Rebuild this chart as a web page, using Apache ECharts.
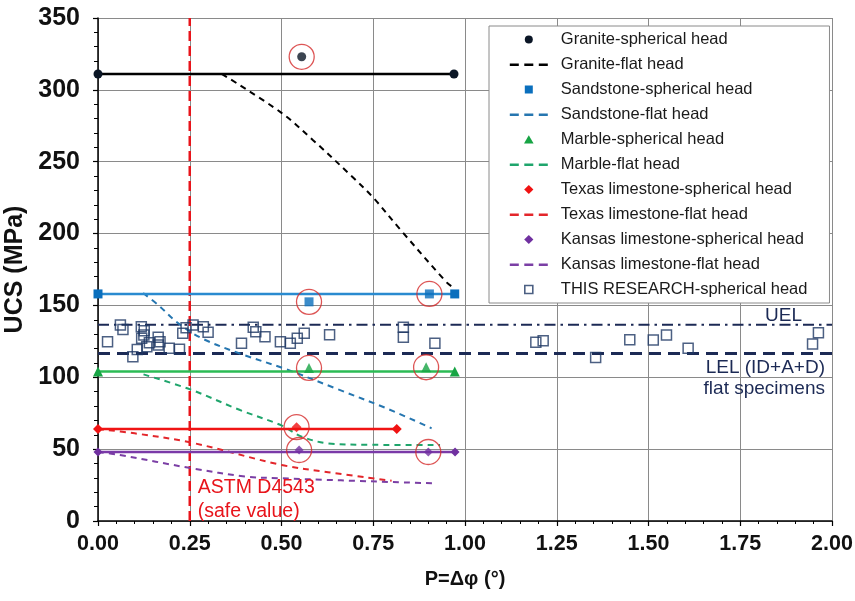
<!DOCTYPE html>
<html><head><meta charset="utf-8">
<script src="https://cdn.jsdelivr.net/npm/echarts@6/dist/echarts.min.js"></script>
<style>html,body{margin:0;padding:0;background:#fff}#c{width:855px;height:601px}</style>
</head><body><div id="c"></div>
<script>
// ---- data ----
const xTickValues = [0, 0.25, 0.5, 0.75, 1, 1.25, 1.5, 1.75, 2];
const yTickValues = [0, 50, 100, 150, 200, 250, 300, 350];
const graniteSpherical = [[0, 311], [0.97, 311]];
const graniteSphericalExtra = [[0.555, 323]];
const graniteFlat = [[0.338, 311], [0.5, 284], [0.586, 265], [0.695, 239], [0.75, 225], [0.823, 203], [0.95, 166], [0.965, 163]];
const sandstoneSpherical = [[0, 158], [0.972, 158]];
const sandstoneSphericalExtra = [[0.575, 152.5], [0.903, 158]];
const sandstoneFlat = [[0.123, 158.6], [0.164, 150.3], [0.219, 137.5], [0.283, 127.1], [0.39, 116.2], [0.514, 105.5], [0.65, 92], [0.79, 78], [0.909, 64.5]];
const marbleSpherical = [[0, 104], [0.972, 104]];
const marbleSphericalExtra = [[0.575, 106.5], [0.894, 107]];
const marbleFlat = [[0.124, 102], [0.251, 91.6], [0.387, 77.2], [0.5, 66.5], [0.555, 58.7], [0.628, 54], [0.75, 53], [0.932, 52.9]];
const texasSpherical = [[0, 64], [0.814, 64]];
const texasSphericalExtra = [[0.541, 65.3]];
const texasFlat = [[0, 64], [0.1, 61], [0.255, 54.5], [0.5, 39], [0.627, 34], [0.8, 28]];
const kansasSpherical = [[0, 48], [0.973, 48]];
const kansasSphericalExtra = [[0.548, 49.4], [0.9, 48]];
const kansasFlat = [[0, 48], [0.06, 45.9], [0.255, 36.7], [0.4, 31], [0.5, 29.7], [0.914, 26.2]];
const thisResearch = [
  [0.026, 124.8], [0.061, 136.4], [0.068, 133.2], [0.095, 114.3], [0.107, 119.3], [0.118, 135.2], [0.119, 127.1],
  [0.126, 132.4], [0.125, 129.4], [0.133, 121.3], [0.14, 124], [0.164, 127.8], [0.169, 124.8], [0.164, 122.5],
  [0.194, 120.2], [0.222, 119.5], [0.231, 130.6], [0.24, 134.5], [0.259, 136.4], [0.287, 135.2], [0.3, 131.3],
  [0.391, 123.6], [0.423, 134.8], [0.43, 131.7], [0.455, 128.2], [0.497, 124.8], [0.524, 123.6], [0.543, 127.1],
  [0.562, 130.6], [0.631, 129.6], [0.832, 134.8], [0.832, 127.8], [0.918, 123.6], [1.193, 124.3], [1.213, 125.5],
  [1.356, 113.7], [1.449, 126.2], [1.513, 126], [1.549, 129.4], [1.608, 120.2], [1.947, 123.2], [1.963, 131]
];
const highlighted = [[0.555, 323], [0.575, 152.5], [0.903, 158], [0.575, 106.5], [0.894, 107], [0.541, 65.3], [0.548, 49.4], [0.9, 48]];
const uelValue = 136.5;
const lelValue = 116.5;
const astmValue = 0.25;
const legendNames = [
  'Granite-spherical head', 'Granite-flat head', 'Sandstone-spherical head', 'Sandstone-flat head',
  'Marble-spherical head', 'Marble-flat head', 'Texas limestone-spherical head', 'Texas limestone-flat head',
  'Kansas limestone-spherical head', 'Kansas limestone-flat head', 'THIS RESEARCH-spherical head'
];

// ---- styles ----
const FONT = '"Liberation Sans", Arial, sans-serif';
const C = {
  granite: '#0b1626', graniteFlat: '#000000',
  sand: '#0a6fbd', sandLine: '#2a8bd0', sandFlat: '#2676b0',
  marble: '#17a444', marbleLine: '#2cbb55', marbleFlat: '#1fa56c',
  texas: '#f01212', texasLine: '#f01414', texasFlat: '#e3262b',
  kansas: '#7030a0', kansasLine: '#7a3aa8', kansasFlat: '#7b3fa5',
  research: '#1f3864', navy: '#1c2a55', astm: '#e8141b', circle: '#d42a2a'
};
const BOX = 'M0,0M40,10';
const ICON = {
  circle: 'path://' + BOX + 'M16,5A4,4,0,1,1,24,5A4,4,0,1,1,16,5Z',
  square: 'path://' + BOX + 'M16,1L24,1L24,9L16,9Z',
  triangle: 'path://' + BOX + 'M20,0.8L24.8,9L15.2,9Z',
  diamond: 'path://' + BOX + 'M20,0.6L24.6,5L20,9.4L15.4,5Z',
  dash: 'path://' + BOX + 'M1,4L10,4L10,6.4L1,6.4Z M15.5,4L24.5,4L24.5,6.4L15.5,6.4Z M30,4L39,4L39,6.4L30,6.4Z'
};

function sphericalLine(name, data, symbol, size, color, lineColor) {
  return { name, type: 'line', data, symbol, symbolSize: size, clip: false, silent: true, z: 4,
    itemStyle: { color }, lineStyle: { color: lineColor, width: 2.5 } };
}
function sphericalExtra(name, data, symbol, size, color) {
  return { name, type: 'scatter', data, symbol, symbolSize: size, clip: false, silent: true, z: 5,
    itemStyle: { color } };
}
function flatLine(name, data, color) {
  return { name, type: 'line', data, smooth: 0.35, symbol: 'none', silent: true, z: 3,
    itemStyle: { color }, lineStyle: { color, width: 2, type: [6, 5] } };
}
function legendItem(name, icon, color, border) {
  return { name, icon, itemStyle: border ? { color: 'rgba(0,0,0,0)', borderColor: border, borderWidth: 1.6 } : { color, borderWidth: 0 } };
}

const option = {
  animation: false,
  backgroundColor: '#ffffff',
  grid: { left: 98, right: 23, top: 18, bottom: 80, containLabel: false, outerBoundsMode: 'none' },
  xAxis: {
    type: 'value', min: xTickValues[0], max: xTickValues[xTickValues.length - 1], interval: 0.25,
    name: 'P=\u0394\u03c6 (\u00b0)', nameLocation: 'middle', nameGap: 48,
    nameTextStyle: { fontFamily: FONT, fontSize: 20, fontWeight: 'bold', color: '#111' },
    axisLine: { onZero: false, lineStyle: { color: '#000', width: 1.5 } },
    axisTick: { show: true, length: 5, lineStyle: { color: '#000', width: 1.2 } },
    minorTick: { show: true, splitNumber: 5, length: 3, lineStyle: { color: '#000', width: 1 } },
    axisLabel: { fontFamily: FONT, fontSize: 21.5, fontWeight: 'bold', color: '#111', margin: 12,
      formatter: v => v.toFixed(2), showMinLabel: true, showMaxLabel: true },
    splitLine: { show: true, lineStyle: { color: '#8a8a8a', width: 1 } }
  },
  yAxis: {
    type: 'value', min: yTickValues[0], max: yTickValues[yTickValues.length - 1], interval: 50,
    name: 'UCS (MPa)', nameLocation: 'middle', nameGap: 60,
    nameTextStyle: { fontFamily: FONT, fontSize: 25, fontWeight: 'bold', color: '#111' },
    axisLine: { show: true, onZero: false, lineStyle: { color: '#000', width: 1.5 } },
    axisTick: { show: true, length: 5, lineStyle: { color: '#000', width: 1.2 } },
    minorTick: { show: true, splitNumber: 5, length: 4, lineStyle: { color: '#000', width: 1 } },
    axisLabel: { fontFamily: FONT, fontSize: 25, fontWeight: 'bold', color: '#111', margin: 18 },
    splitLine: { show: true, lineStyle: { color: '#8a8a8a', width: 1 } }
  },
  legend: {
    orient: 'vertical', left: 489, top: 26,
    backgroundColor: '#ffffff', borderColor: '#8a8a8a', borderWidth: 1,
    padding: [5, 22, 5, 19], itemWidth: 40, itemHeight: 10, itemGap: 8,
    selectedMode: false,
    textStyle: { fontFamily: FONT, fontSize: 16.5, color: '#1a1a1a', lineHeight: 16, padding: [0, 0, 0, 7] },
    data: [
      legendItem(legendNames[0], ICON.circle, C.granite),
      legendItem(legendNames[1], ICON.dash, C.graniteFlat),
      legendItem(legendNames[2], ICON.square, C.sand),
      legendItem(legendNames[3], ICON.dash, C.sandFlat),
      legendItem(legendNames[4], ICON.triangle, C.marble),
      legendItem(legendNames[5], ICON.dash, C.marbleFlat),
      legendItem(legendNames[6], ICON.diamond, C.texas),
      legendItem(legendNames[7], ICON.dash, C.texasFlat),
      legendItem(legendNames[8], ICON.diamond, C.kansas),
      legendItem(legendNames[9], ICON.dash, C.kansasFlat),
      legendItem(legendNames[10], ICON.square, null, C.research)
    ]
  },
  series: [
    { name: 'UEL', type: 'line', data: [[xTickValues[0], uelValue], [xTickValues[xTickValues.length - 1], uelValue]], symbol: 'none', silent: true, z: 2,
      lineStyle: { color: C.navy, width: 2, type: [11, 5, 2.5, 5] } },
    { name: 'LEL', type: 'line', data: [[xTickValues[0], lelValue], [xTickValues[xTickValues.length - 1], lelValue]], symbol: 'none', silent: true, z: 2,
      lineStyle: { color: C.navy, width: 3, type: [12, 7] } },
    { name: 'ASTM D4543', type: 'line', data: [[astmValue, yTickValues[0]], [astmValue, yTickValues[yTickValues.length - 1]]], symbol: 'none', silent: true, z: 2,
      lineStyle: { color: C.astm, width: 2.5, type: [10, 5] } },
    flatLine(legendNames[1], graniteFlat, C.graniteFlat),
    flatLine(legendNames[3], sandstoneFlat, C.sandFlat),
    flatLine(legendNames[5], marbleFlat, C.marbleFlat),
    flatLine(legendNames[7], texasFlat, C.texasFlat),
    flatLine(legendNames[9], kansasFlat, C.kansasFlat),
    sphericalLine(legendNames[0], graniteSpherical, 'circle', 9, C.granite, '#000'),
    sphericalExtra(legendNames[0], graniteSphericalExtra, 'circle', 9, C.granite),
    sphericalLine(legendNames[2], sandstoneSpherical, 'rect', 9, C.sand, C.sandLine),
    sphericalExtra(legendNames[2], sandstoneSphericalExtra, 'rect', 9, C.sand),
    sphericalLine(legendNames[4], marbleSpherical, 'triangle', 10, C.marble, C.marbleLine),
    sphericalExtra(legendNames[4], marbleSphericalExtra, 'triangle', 10, C.marble),
    sphericalLine(legendNames[6], texasSpherical, 'diamond', 10, C.texas, C.texasLine),
    sphericalExtra(legendNames[6], texasSphericalExtra, 'diamond', 10, C.texas),
    sphericalLine(legendNames[8], kansasSpherical, 'diamond', 9, C.kansas, C.kansasLine),
    sphericalExtra(legendNames[8], kansasSphericalExtra, 'diamond', 9, C.kansas),
    { name: legendNames[10], type: 'scatter', data: thisResearch, symbol: 'rect', symbolSize: 10, silent: true, z: 4,
      itemStyle: { color: 'rgba(0,0,0,0)', borderColor: C.research, borderWidth: 1.5 } },
    { name: 'highlight', type: 'scatter', data: highlighted, symbol: 'circle', symbolSize: 25, silent: true, z: 6, clip: false,
      itemStyle: { color: 'rgba(0,0,0,0)', borderColor: C.circle, borderWidth: 1.3 } }
  ]
};

const chart = echarts.init(document.getElementById('c'), null, { renderer: 'canvas' });
chart.setOption(option);

const px = (x, y) => chart.convertToPixel({ gridIndex: 0 }, [x, y]);
const xEnd = xTickValues[xTickValues.length - 1];
const uelP = px(xEnd, uelValue);
const lelP = px(xEnd, lelValue);
const astmP = px(astmValue, 0);
const annFont = '19px "Liberation Sans", Arial, sans-serif';
const astmFont = '19.5px "Liberation Sans", Arial, sans-serif';
chart.setOption({
  graphic: [
    { type: 'text', x: uelP[0] - 30, y: uelP[1] - 9, z: 10, silent: true,
      style: { text: 'UEL', fill: C.navy, font: annFont, align: 'right', verticalAlign: 'middle' } },
    { type: 'text', x: lelP[0] - 7, y: lelP[1] + 14, z: 10, silent: true,
      style: { text: 'LEL (ID+A+D)', fill: C.navy, font: annFont, align: 'right', verticalAlign: 'middle' } },
    { type: 'text', x: lelP[0] - 7, y: lelP[1] + 35, z: 10, silent: true,
      style: { text: 'flat specimens', fill: C.navy, font: annFont, align: 'right', verticalAlign: 'middle' } },
    { type: 'text', x: astmP[0] + 8, y: astmP[1] - 33, z: 10, silent: true,
      style: { text: 'ASTM D4543', fill: C.astm, font: astmFont, align: 'left', verticalAlign: 'middle' } },
    { type: 'text', x: astmP[0] + 8, y: astmP[1] - 9, z: 10, silent: true,
      style: { text: '(safe value)', fill: C.astm, font: astmFont, align: 'left', verticalAlign: 'middle' } }
  ]
});
</script>
</body></html>
